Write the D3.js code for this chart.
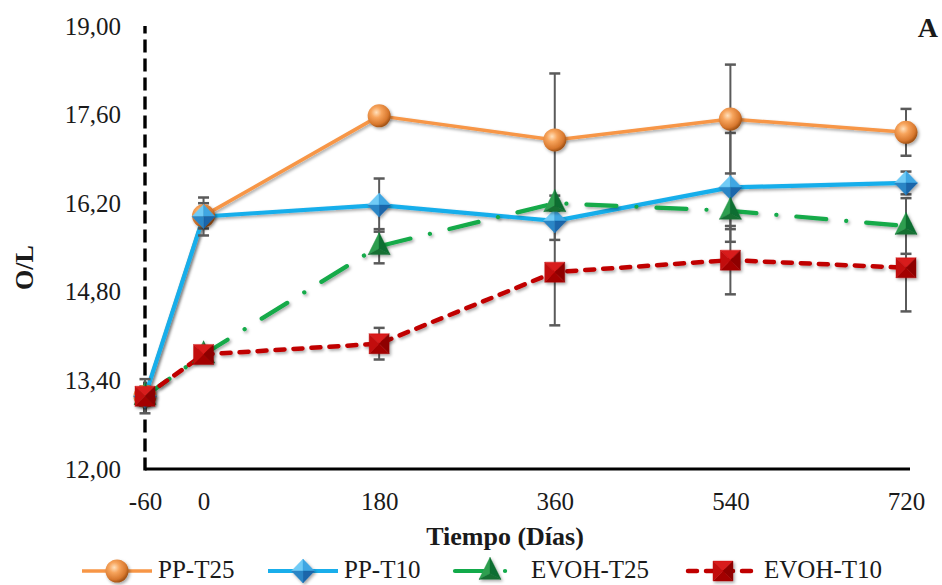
<!DOCTYPE html>
<html>
<head>
<meta charset="utf-8">
<script src="https://cdn.jsdelivr.net/npm/d3@7/dist/d3.min.js"></script>
<style>
  html, body { margin: 0; padding: 0; background: #ffffff; }
  svg { display: block; }
  text { font-family: "Liberation Serif", "Times New Roman", serif; fill: #1a1a1a; }
</style>
</head>
<body>
<svg id="chart" width="942" height="585"></svg>
<script>
// ---------------- data ----------------
const days = [-60, 0, 180, 360, 540, 720];
const xTickLabels = ["-60", "0", "180", "360", "540", "720"];
const yTicks = [12.0, 13.4, 14.8, 16.2, 17.6, 19.0];

const seriesNames = ["PP-T25", "PP-T10", "EVOH-T25", "EVOH-T10"];
const ppT25    = [13.15, 16.00, 17.58, 17.20, 17.53, 17.32];
const ppT25Err = [0.27, 0.20, 0.10, 1.05, 0.86, 0.37];
const ppT10    = [13.15, 15.99, 16.17, 15.92, 16.45, 16.52];
const ppT10Err = [0.15, 0.30, 0.42, 0.30, 0.86, 0.18];
const evohT25    = [13.15, 13.81, 15.52, 16.20, 16.08, 15.84];
const evohT25Err = [0.10, 0.08, 0.27, 0.12, 0.29, 0.44];
const evohT10    = [13.15, 13.81, 13.98, 15.11, 15.30, 15.18];
const evohT10Err = [0.15, 0.08, 0.25, 0.84, 0.54, 0.69];

const xTitle = "Tiempo (Días)";
const yTitle = "O/L";
const panelLabel = "A";

// ---------------- setup ----------------
const svg = d3.select("#chart");
const x = d3.scaleLinear().domain([-60, 720]).range([145, 906]);
const y = d3.scaleLinear().domain([12, 19]).range([469, 26]);

const defs = svg.append("defs");
const sph = defs.append("radialGradient").attr("id", "sphere")
  .attr("cx", "38%").attr("cy", "35%").attr("r", "65%");
sph.append("stop").attr("offset", "0%").attr("stop-color", "#FFE0BC");
sph.append("stop").attr("offset", "35%").attr("stop-color", "#F7A45C");
sph.append("stop").attr("offset", "80%").attr("stop-color", "#D8782E");
sph.append("stop").attr("offset", "100%").attr("stop-color", "#A35417");

const sh = defs.append("filter").attr("id", "shadow")
  .attr("x", "-30%").attr("y", "-30%").attr("width", "170%").attr("height", "170%");
sh.append("feDropShadow").attr("dx", 1.5).attr("dy", 1.8).attr("stdDeviation", 1.4)
  .attr("flood-color", "#000").attr("flood-opacity", 0.35);

const series = [
  { name: seriesNames[0], values: ppT25, err: ppT25Err, color: "#F79646", width: 3.5, dash: null, cap: "butt", marker: "sphere" },
  { name: seriesNames[1], values: ppT10, err: ppT10Err, color: "#19AEEB", width: 4.2, dash: null, cap: "butt", marker: "diamond" },
  { name: seriesNames[2], values: evohT25, err: evohT25Err, color: "#12AA4A", width: 4.2, dash: "30,20,0.1,20", cap: "round", marker: "triangle" },
  { name: seriesNames[3], values: evohT10, err: evohT10Err, color: "#C00000", width: 4.5, dash: "9,9", cap: "round", marker: "square" }
];

// ---------------- markers ----------------
function drawMarker(g, type, cx, cy) {
  const m = g.append("g").attr("transform", `translate(${cx},${cy})`).attr("filter", "url(#shadow)");
  if (type === "sphere") {
    m.append("circle").attr("r", 11.5).attr("fill", "url(#sphere)");
  } else if (type === "diamond") {
    const a = 11.5, b = 12;
    const facets = [
      [[0,0],[-a,0],[0,-b], "#6FCBF6"],
      [[0,0],[0,-b],[a,0], "#3FA6E2"],
      [[0,0],[a,0],[0,b], "#1A66AA"],
      [[0,0],[0,b],[-a,0], "#2A86C6"]
    ];
    facets.forEach(f => m.append("path").attr("d", d3.line()(f.slice(0,3)) + "Z").attr("fill", f[3])
      .attr("stroke", f[3]).attr("stroke-width", 0.4));
  } else if (type === "triangle") {
    const h = 22, w = 11;
    const top = [0, -h * 0.62], bl = [-w, h * 0.38], br = [w, h * 0.38], c = [0, h * 0.12];
    [[top, bl, c, "#2E9E50"], [top, c, br, "#0F6E30"], [bl, br, c, "#136F33"]].forEach(f =>
      m.append("path").attr("d", d3.line()(f.slice(0,3)) + "Z").attr("fill", f[3])
        .attr("stroke", f[3]).attr("stroke-width", 0.4));
  } else if (type === "square") {
    const s = 10;
    const tl = [-s,-s], tr = [s,-s], br = [s,s], bl = [-s,s], c = [0,0];
    [[tl,tr,c,"#D81A1A"],[tr,br,c,"#8E0000"],[br,bl,c,"#A30000"],[bl,tl,c,"#C20A0A"]].forEach(f =>
      m.append("path").attr("d", d3.line()(f.slice(0,3)) + "Z").attr("fill", f[3])
        .attr("stroke", f[3]).attr("stroke-width", 0.4));
  }
}

// ---------------- axes ----------------
const fmt = v => d3.format(".2f")(v).replace(".", ",");

const yAxis = svg.append("g").attr("transform", `translate(${x(-60)},0)`)
  .call(d3.axisLeft(y).tickValues(yTicks).tickFormat(fmt).tickSize(0).tickPadding(24));
yAxis.select(".domain").remove();
yAxis.selectAll("text").style("font-size", "25px").attr("fill", "#1a1a1a")
  .style("font-family", '"Liberation Serif", serif');

const xAxis = svg.append("g").attr("transform", `translate(0,${y(12)})`)
  .call(d3.axisBottom(x).tickValues(days).tickFormat((d, i) => xTickLabels[i]).tickSize(0).tickPadding(23));
xAxis.select(".domain").remove();
xAxis.selectAll("text").style("font-size", "25px").attr("fill", "#1a1a1a")
  .style("font-family", '"Liberation Serif", serif');

// axis lines
svg.append("line").attr("x1", x(-60)).attr("x2", 910).attr("y1", y(12)).attr("y2", y(12))
  .attr("stroke", "#000").attr("stroke-width", 3);
svg.append("line").attr("x1", x(-60)).attr("x2", x(-60)).attr("y1", y(12) + 1.5).attr("y2", y(19))
  .attr("stroke", "#000").attr("stroke-width", 3.4).attr("stroke-dasharray", "13,6");

// titles
svg.append("text").attr("x", 505).attr("y", 545).attr("text-anchor", "middle")
  .style("font-size", "26px").style("font-weight", "bold").text(xTitle);
svg.append("text").attr("transform", `translate(33,${(y(12) + y(19)) / 2 + 20}) rotate(-90)`)
  .attr("text-anchor", "middle").style("font-size", "26px").style("font-weight", "bold").text(yTitle);
svg.append("text").attr("x", 938).attr("y", 37).attr("text-anchor", "end")
  .style("font-size", "28px").style("font-weight", "bold").text(panelLabel);

// ---------------- series ----------------
const plot = svg.append("g");
const line = d3.line().x((d, i) => x(days[i])).y(d => y(d));

series.forEach(s => {
  plot.append("path").datum(s.values).attr("d", line).attr("fill", "none")
    .attr("stroke", s.color).attr("stroke-width", s.width)
    .attr("stroke-dasharray", s.dash).attr("stroke-linecap", s.cap).attr("stroke-linejoin", "round")
    .attr("filter", "url(#shadow)");
});

// error bars
series.forEach(s => {
  const eg = plot.append("g").attr("stroke", "#5A5A5A").attr("stroke-width", 2);
  s.values.forEach((v, i) => {
    const cx = x(days[i]);
    const y1 = y(v + s.err[i]), y2 = y(v - s.err[i]);
    eg.append("line").attr("x1", cx).attr("x2", cx).attr("y1", y1).attr("y2", y2);
    eg.append("line").attr("x1", cx - 5.5).attr("x2", cx + 5.5).attr("y1", y1).attr("y2", y1).attr("stroke-width", 2.5);
    eg.append("line").attr("x1", cx - 5.5).attr("x2", cx + 5.5).attr("y1", y2).attr("y2", y2).attr("stroke-width", 2.5);
  });
});

// markers
series.forEach(s => {
  const mg = plot.append("g");
  s.values.forEach((v, i) => drawMarker(mg, s.marker, x(days[i]), y(v)));
});

// ---------------- legend ----------------
const legendX = [82, 268, 455, 688];
const legendY = 571;
const lg = svg.append("g");
series.forEach((s, i) => {
  const x0 = legendX[i];
  lg.append("line").attr("x1", x0).attr("x2", x0 + 70).attr("y1", legendY).attr("y2", legendY)
    .attr("stroke", s.color).attr("stroke-width", s.width)
    .attr("stroke-dasharray", s.dash)
    .attr("stroke-linecap", s.cap);
  drawMarker(lg, s.marker, x0 + 35, legendY);
  lg.append("text").attr("x", x0 + 76).attr("y", 578)
    .style("font-size", "25px").text(s.name);
});
</script>
</body>
</html>
